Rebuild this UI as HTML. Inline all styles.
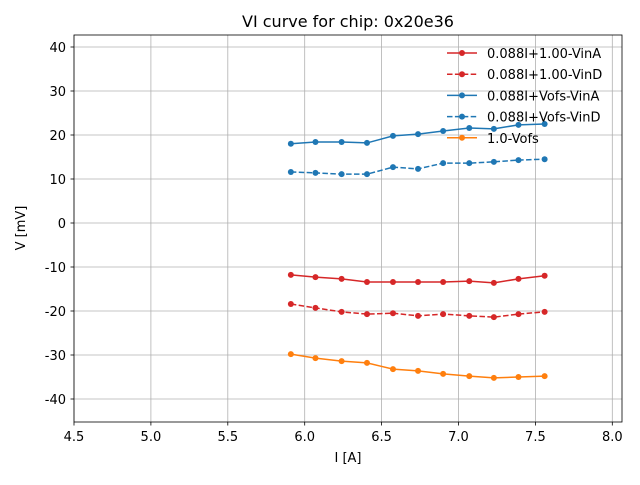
<!DOCTYPE html>
<html><head><meta charset="utf-8"><style>
body{margin:0;background:#fff;font-family:"Liberation Sans","DejaVu Sans",sans-serif}
svg text{font-family:"DejaVu Sans","Liberation Sans",sans-serif;fill:#000}
</style></head><body>
<svg id="c" width="640" height="480" xmlns="http://www.w3.org/2000/svg"></svg>
<script>
const currents=[5.91,6.07,6.24,6.405,6.574,6.737,6.90,7.07,7.23,7.39,7.56];
const vinA1=[-11.8,-12.3,-12.7,-13.4,-13.4,-13.4,-13.4,-13.2,-13.6,-12.7,-12.0];
const vinD1=[-18.4,-19.3,-20.2,-20.7,-20.5,-21.1,-20.7,-21.1,-21.4,-20.7,-20.2];
const vinAVofs=[18.0,18.4,18.4,18.2,19.8,20.2,20.9,21.6,21.4,22.3,22.5];
const vinDVofs=[11.6,11.4,11.1,11.1,12.7,12.3,13.6,13.6,13.9,14.3,14.5];
const vofs=[-29.8,-30.7,-31.4,-31.8,-33.2,-33.6,-34.3,-34.8,-35.2,-35.0,-34.8];
const xTicks=[4.5,5.0,5.5,6.0,6.5,7.0,7.5,8.0];
const yTicks=[40,30,20,10,0,-10,-20,-30,-40];
const seriesNames=["0.088I+1.00-VinA","0.088I+1.00-VinD","0.088I+Vofs-VinA","0.088I+Vofs-VinD","1.0-Vofs"];

const svg=document.getElementById('c');const NS="http://www.w3.org/2000/svg";
const L=74,R=622,T=35,B=422;
const X=v=>74+(v-4.5)*153.8;
const Y=v=>223-v*4.4;
function el(t,a,p){const e=document.createElementNS(NS,t);for(const k in a)e.setAttribute(k,a[k]);(p||svg).appendChild(e);return e;}
xTicks.forEach(t=>{const x=X(t);
 const g=el('line',{x1:x,x2:x,y1:T,y2:B,stroke:'#b0b0b0','stroke-width':0.8});
 
 el('line',{x1:x,x2:x,y1:B,y2:B+3.5,stroke:'#000','stroke-width':0.8});
 const tx=el('text',{x:x,y:B+19,'font-size':13,'text-anchor':'middle'});tx.textContent=t.toFixed(1);
 });
yTicks.forEach(t=>{const y=Y(t);
 const g=el('line',{x1:L,x2:R,y1:y,y2:y,stroke:'#b0b0b0','stroke-width':0.8});
 
 el('line',{x1:L-3.5,x2:L,y1:y,y2:y,stroke:'#000','stroke-width':0.8});
 const tx=el('text',{x:L-8,y:y+5,'font-size':13,'text-anchor':'end'});tx.textContent=t;
 });
const frame=el('rect',{x:L,y:T,width:R-L,height:B-T,fill:'none',stroke:'#000','stroke-width':0.8});

const series=[[vinA1,'#d62728',''],[vinD1,'#d62728','5.5,2.4'],[vinAVofs,'#1f77b4',''],[vinDVofs,'#1f77b4','5.5,2.4'],[vofs,'#ff7f0e','']];
series.forEach((s,i)=>{const g=el('g',{});
 
 const pts=currents.map((c,j)=>X(c)+','+Y(s[0][j])).join(' ');
 el('polyline',{points:pts,fill:'none',stroke:s[1],'stroke-width':1.5,'stroke-dasharray':s[2]},g);
 currents.forEach((c,j)=>{const p=el('circle',{cx:X(c),cy:Y(s[0][j]),r:3,fill:s[1]},g);
  });
 const ly=53+i*21.2;const lg=el('g',{},svg);
 
 el('line',{x1:447,x2:477,y1:ly,y2:ly,stroke:s[1],'stroke-width':1.5,'stroke-dasharray':s[2]},lg);
 el('circle',{cx:462,cy:ly,r:3,fill:s[1]},lg);
 const t=el('text',{x:487,y:ly+5,'font-size':13},lg);t.textContent=seriesNames[i];});
const ti=el('text',{x:348,y:27,'font-size':16,'text-anchor':'middle'});ti.textContent='VI curve for chip: 0x20e36';

const xl=el('text',{x:348,y:462,'font-size':13,'text-anchor':'middle'});xl.textContent='I [A]';

const yl=el('text',{x:25,y:228,'font-size':13,'text-anchor':'middle',transform:'rotate(-90 25 228)'});yl.textContent='V [mV]';

</script>
</body></html>
